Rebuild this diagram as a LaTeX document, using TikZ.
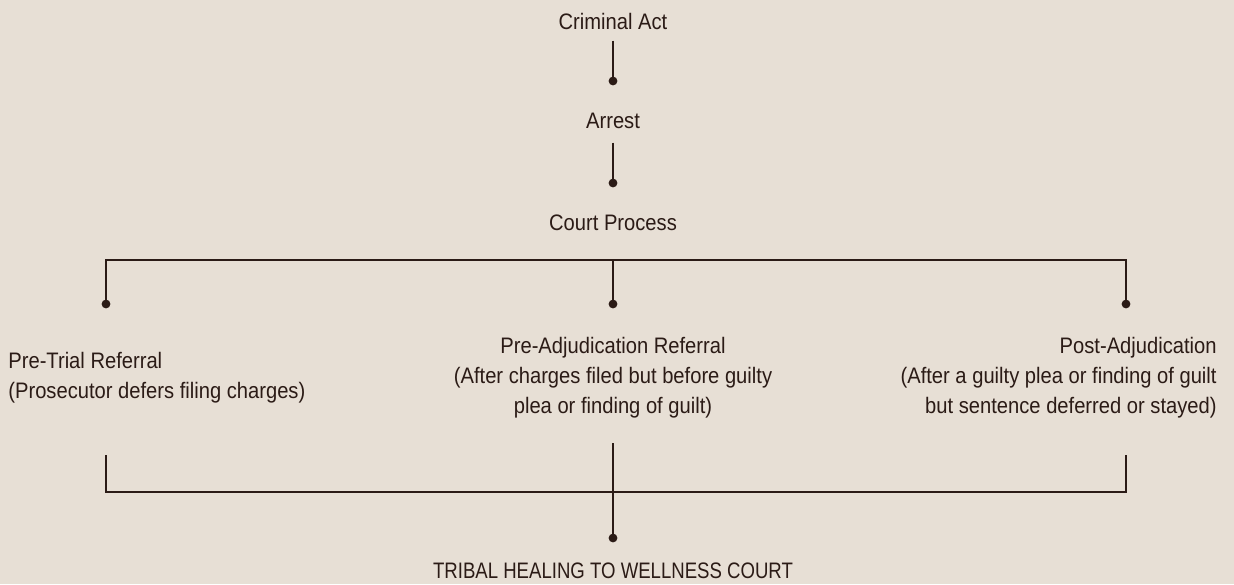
\documentclass[tikz,border=0pt]{standalone}
\usepackage{fontspec}
\setmainfont{Liberation Sans}[FakeStretch=0.9]
\newfontfamily\capsfont{Liberation Sans}[FakeStretch=0.83]
\definecolor{paper}{HTML}{E7DFD5}
\definecolor{ink}{HTML}{2B1B16}
\begin{document}
\begin{tikzpicture}[x=0.5pt,y=-0.5pt,
  stagetext/.style={text=ink, inner sep=0pt, font=\fontsize{11.2}{15}\selectfont},
  joint/.style={circle, fill=ink, inner sep=0pt, minimum size=4.4pt},
  link/.style={draw=ink, line width=0.8pt}]
  \fill[paper] (0,0) rectangle (1234,584);
  \useasboundingbox (0,0) rectangle (1234,584);

  % top chain
  \node[stagetext, anchor=base] (crime) at (613,29) {Criminal Act};
  \node[joint] (jarrest) at (613,81) {};
  \node[stagetext, anchor=base] (arrest) at (613,128) {Arrest};
  \node[joint] (jcourt) at (613,183) {};
  \node[stagetext, anchor=base] (court) at (613,230) {Court Process};

  \draw[link, shorten <=5.5pt] (crime.south) -- (jarrest.center);
  \draw[link, shorten <=7pt] (arrest.south) -- (jcourt.center);

  % three ways out of court
  \coordinate (barleft) at (106,260);
  \coordinate (barmid) at (613,260);
  \coordinate (barright) at (1126,260);
  \node[joint] (jpretrial) at (106,304) {};
  \node[joint] (jpreadj) at (613,304) {};
  \node[joint] (jpostadj) at (1126,304) {};

  \draw[link] (jpretrial.center) -- (barleft) -- (barright) -- (jpostadj.center);
  \draw[link] (barmid) -- (jpreadj.center);

  % base of a block sits on its last line
  \node[stagetext, anchor=base west, align=left] (pretrial) at (8,398)
    {Pre-Trial Referral\\(Prosecutor defers filing charges)};
  \node[stagetext, anchor=base, align=center] (preadj) at (613,413)
    {Pre-Adjudication Referral\\(After charges filed but before guilty\\plea or finding of guilt)};
  \node[stagetext, anchor=base east, align=right] (postadj) at (1217,413)
    {Post-Adjudication\\(After a guilty plea or finding of guilt\\but sentence deferred or stayed)};

  % back together
  \coordinate (dropleft) at (106,455);
  \coordinate (dropmid) at (613,443);
  \coordinate (dropright) at (1126,455);
  \coordinate (joinleft) at (106,492);
  \coordinate (joinright) at (1126,492);
  \node[joint] (jwell) at (613,538) {};
  \node[stagetext, anchor=base, font=\capsfont\fontsize{11.2}{15}\selectfont] (wellness) at (613,578)
    {TRIBAL HEALING TO WELLNESS COURT};

  \draw[link] (dropleft) -- (joinleft) -- (joinright) -- (dropright);
  \draw[link] (dropmid) -- (jwell.center);
\end{tikzpicture}
\end{document}
